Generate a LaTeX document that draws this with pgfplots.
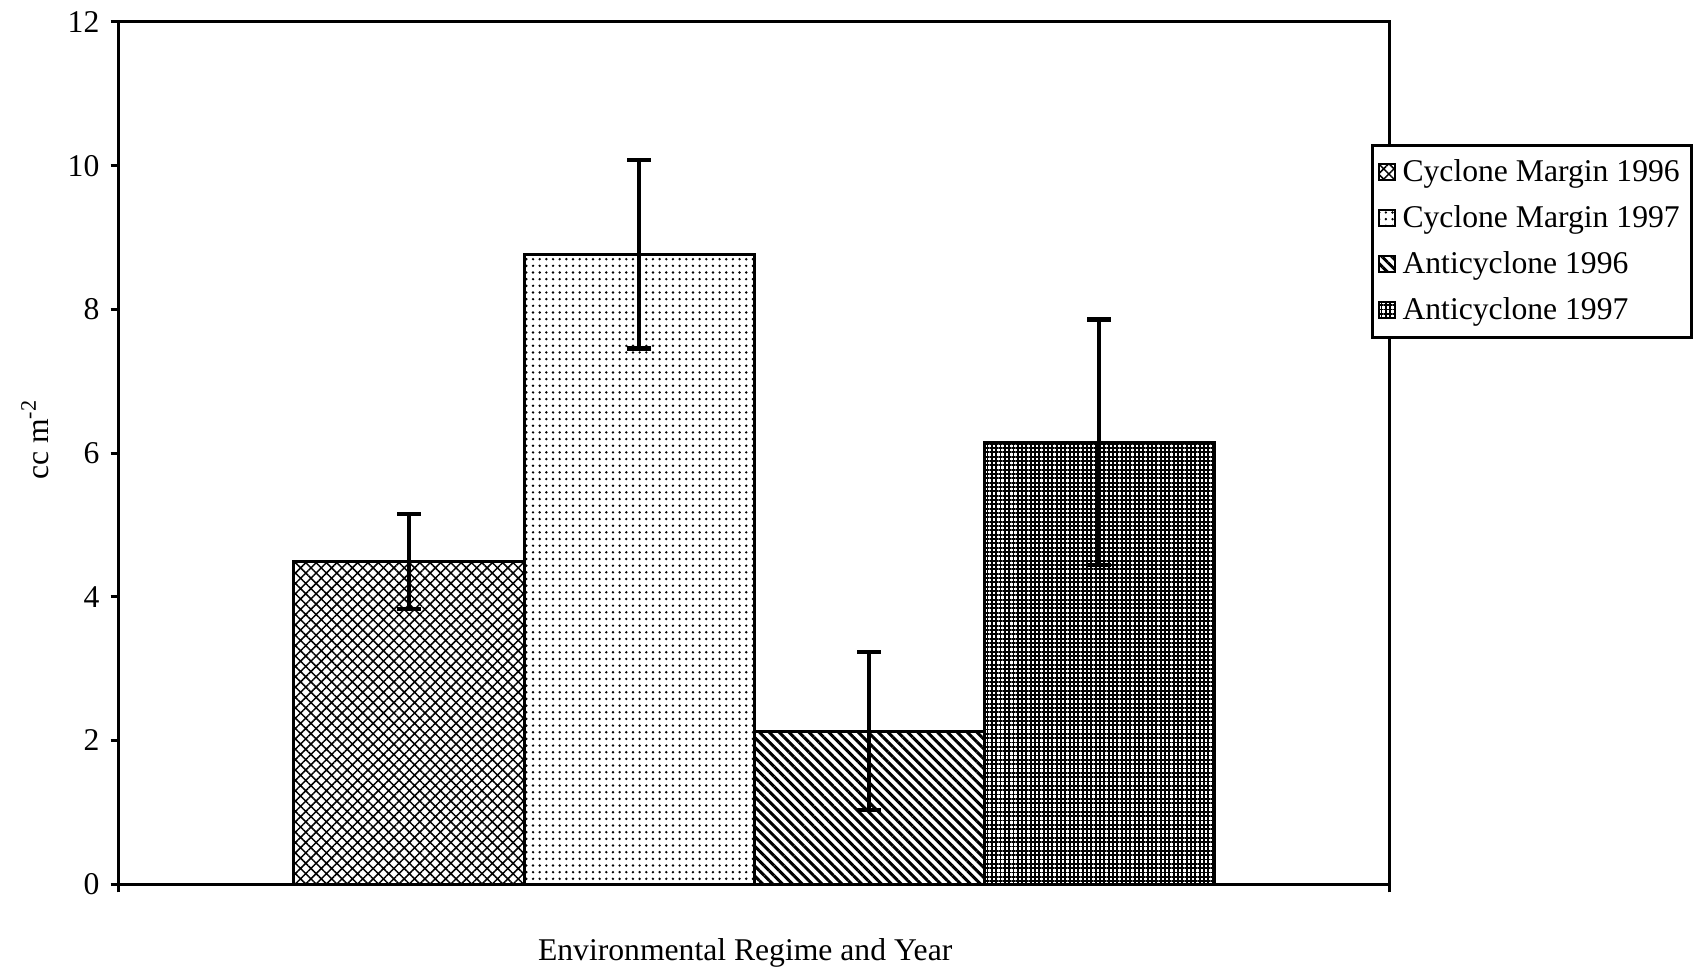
\documentclass[border=0pt]{standalone}
\usepackage{fontspec}
\setmainfont{Liberation Serif}
\usepackage{pgfplots}
\pgfplotsset{compat=1.18}
\usetikzlibrary{patterns.meta}

\pgfplotsset{
  mybar/.style={ybar, bar shift=0pt, bar width=1, draw=black, line width=0.9pt, mark=none,
    legend image code/.code={\draw[##1, line width=0.6pt] (0pt,-2.4pt) rectangle (4.8pt,2.4pt);},
    /pgfplots/error bars/y dir=both, /pgfplots/error bars/y explicit,
    /pgfplots/error bars/error bar style={line width=1.4pt, black},
    /pgfplots/error bars/error mark options={rotate=90, line width=1.4pt, mark size=3.5pt, black}},
}

\begin{document}
\fontsize{9.5}{11.4}\selectfont
\begin{tikzpicture}
\begin{axis}[
  scale only axis, width=381.3pt, height=258.8pt,
  xmin=0, xmax=5.522, ymin=0, ymax=12,
  ytick={0,2,...,12}, xtick={0,5.522}, xticklabels={},
  ytick pos=left, xtick pos=bottom, tick align=outside,
  major tick length=2.5pt,
  tick style={line width=0.9pt, black},
  axis line style={line width=0.9pt},
  /pgf/number format/assume math mode=true,
  tick label style={font=\fontsize{9.5}{11.4}\selectfont},
  label style={font=\fontsize{9.5}{11.4}\selectfont},
  xlabel={Environmental Regime and Year},
  ylabel={cc m\textsuperscript{-2}},
  xlabel style={at={(axis description cs:0.493,-0.080)}, anchor=center},
  ylabel style={at={(axis description cs:-0.066,0.516)}, anchor=center},
  legend style={at={(0.986,0.859)}, anchor=north west, draw=black, line width=0.9pt,
    font=\fontsize{9.5}{11.4}\selectfont, row sep=1.8pt, inner xsep=1.5pt, inner ysep=2.2pt},
  legend cell align=left,
]
\addplot[mybar, pattern={Hatch[angle=45, distance=2.2pt, line width=0.45pt]}]
  coordinates {(1.261,4.49) +- (0,0.66)};
\addlegendentry{Cyclone Margin 1996}
\addplot[mybar, pattern={Dots[distance=2.0pt, radius=0.4pt]}]
  coordinates {(2.261,8.77) +- (0,1.31)};
\addlegendentry{Cyclone Margin 1997}
\addplot[mybar, pattern={Lines[angle=-45, distance=2.1pt, line width=0.9pt]}]
  coordinates {(3.261,2.13) +- (0,1.10)};
\addlegendentry{Anticyclone 1996}
\addplot[mybar, pattern={Hatch[angle=0, distance=1.3pt, line width=0.55pt]}]
  coordinates {(4.261,6.15) +- (0,1.71)};
\addlegendentry{Anticyclone 1997}
\end{axis}
\pgfresetboundingbox
\useasboundingbox (-35.7pt,-26.4pt) rectangle (474.3pt,265.4pt);
\end{tikzpicture}
\end{document}
